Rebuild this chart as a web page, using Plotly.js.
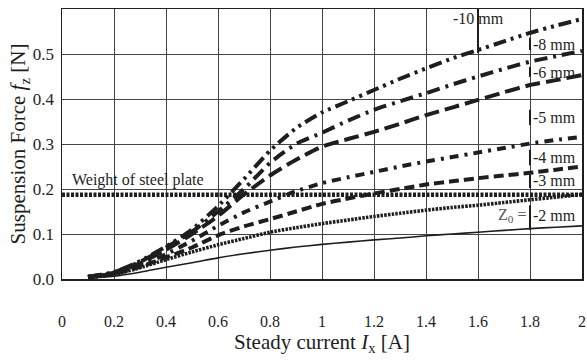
<!DOCTYPE html>
<html>
<head>
<meta charset="utf-8">
<script src="https://cdn.plot.ly/plotly-3.0.1.min.js"></script>
<style>
  html, body { margin: 0; padding: 0; background: #fff; }
  #chart { width: 587px; height: 363px; }
</style>
</head>
<body>
<div id="chart"></div>
<script>
// Steady current Ix [A]
const current = [0.1, 0.2, 0.3, 0.4, 0.5, 0.6, 0.7, 0.8, 0.9, 1.0,
                 1.1, 1.2, 1.3, 1.4, 1.5, 1.6, 1.7, 1.8, 1.9, 2.0];

// Suspension force fz [N] for each initial gap Z0
const force_m10 = [0.005, 0.015, 0.040, 0.072, 0.110, 0.162, 0.222, 0.285, 0.335, 0.370,
                   0.395, 0.420, 0.445, 0.468, 0.490, 0.509, 0.528, 0.547, 0.563, 0.578];
const force_m8  = [0.005, 0.015, 0.038, 0.070, 0.105, 0.150, 0.200, 0.258, 0.300, 0.325,
                   0.352, 0.376, 0.395, 0.413, 0.432, 0.450, 0.467, 0.483, 0.495, 0.507];
const force_m6  = [0.005, 0.014, 0.035, 0.065, 0.100, 0.140, 0.188, 0.230, 0.265, 0.294,
                   0.311, 0.327, 0.345, 0.364, 0.381, 0.398, 0.415, 0.431, 0.442, 0.453];
const force_m5  = [0.004, 0.012, 0.030, 0.055, 0.085, 0.118, 0.148, 0.172, 0.195, 0.213,
                   0.226, 0.238, 0.250, 0.261, 0.271, 0.281, 0.291, 0.301, 0.309, 0.316];
const force_m4  = [0.004, 0.011, 0.027, 0.048, 0.070, 0.097, 0.117, 0.133, 0.150, 0.167,
                   0.179, 0.190, 0.200, 0.210, 0.217, 0.224, 0.230, 0.236, 0.243, 0.250];
const force_m3  = [0.003, 0.010, 0.025, 0.043, 0.060, 0.076, 0.090, 0.104, 0.114, 0.123,
                   0.131, 0.139, 0.146, 0.153, 0.159, 0.164, 0.170, 0.176, 0.182, 0.188];
const force_m2  = [0.002, 0.006, 0.015, 0.026, 0.036, 0.047, 0.056, 0.064, 0.071, 0.077,
                   0.082, 0.087, 0.091, 0.096, 0.100, 0.104, 0.108, 0.112, 0.115, 0.118];

// Weight of the steel plate [N]
const plateWeight = 0.187;
const weightSpan = [0, 2];

const gapLabels = ["-10 mm", "-8 mm", "-6 mm", "-5 mm", "-4 mm", "-3 mm", "-2 mm"];

const xTicks = [0, 0.2, 0.4, 0.6, 0.8, 1, 1.2, 1.4, 1.6, 1.8, 2];
const xTickText = ["0", "0.2", "0.4", "0.6", "0.8", "1", "1.2", "1.4", "1.6", "1.8", "2"];
const yTicks = [0, 0.1, 0.2, 0.3, 0.4, 0.5, 0.6];
const yTickText = ["0.0", "0.1", "0.2", "0.3", "0.4", "0.5", "0.6"];

const serif = "Liberation Serif";
const ink = "#1e1e1e";

function curve(y, width, dash) {
  return { x: current, y: y, mode: "lines", type: "scatter",
           line: { color: ink, width: width, dash: dash, shape: "spline", smoothing: 0.6 },
           hoverinfo: "skip" };
}

const traces = [
  { x: weightSpan, y: [plateWeight, plateWeight], mode: "lines", type: "scatter",
    line: { color: ink, width: 4.5, dash: "3px,1.5px" }, hoverinfo: "skip" },
  curve(force_m2, 1.6, "solid"),
  curve(force_m3, 3.6, "2.5px,1.2px"),
  curve(force_m4, 4, "10px,5px"),
  curve(force_m5, 4, "9px,6px,3px,6px"),
  curve(force_m6, 4, "15px,6px"),
  curve(force_m8, 4, "13px,6px,3px,6px"),
  curve(force_m10, 4, "13px,5px,3px,5px,3px,5px")
];

// label anchors: [text, x, y, xanchor]
const labelSpots = [
  [gapLabels[0], 1.6, 0.578, "center"],
  [gapLabels[1], 1.8, 0.522, "left"],
  [gapLabels[2], 1.8, 0.460, "left"],
  [gapLabels[3], 1.8, 0.358, "left"],
  [gapLabels[4], 1.8, 0.271, "left"],
  [gapLabels[5], 1.8, 0.218, "left"],
  [gapLabels[6], 1.8, 0.142, "left"]
];

const annotations = labelSpots.map(s => ({
  text: s[0], x: s[1], y: s[2], xref: "x", yref: "y",
  xanchor: s[3], yanchor: "middle", xshift: s[3] === "left" ? 1 : 0,
  showarrow: false, font: { family: serif, size: 16, color: ink }
}));
annotations.push({
  text: "Z<sub>0</sub> =", x: 1.8, y: 0.142, xref: "x", yref: "y",
  xanchor: "right", yanchor: "middle", xshift: -2, showarrow: false,
  font: { family: serif, size: 16, color: "#555" }
});
annotations.push({
  text: "Weight of steel plate", x: 0.03, y: 0.22, xref: "x", yref: "y",
  xanchor: "left", yanchor: "middle", showarrow: false,
  font: { family: serif, size: 16, color: ink }
});

// short marker bars beside the gap labels
const bars = [
  [1.6, 0.600, 0.502],
  [1.8, 0.536, 0.509],
  [1.8, 0.471, 0.449],
  [1.8, 0.376, 0.342],
  [1.8, 0.287, 0.253],
  [1.8, 0.231, 0.202],
  [1.8, 0.164, 0.109]
];
const shapes = bars.map(b => ({
  type: "line", xref: "x", yref: "y", x0: b[0], x1: b[0], y0: b[1], y1: b[2],
  line: { color: ink, width: 2 }
}));

const layout = {
  width: 587, height: 363,
  margin: { l: 62, r: 5, t: 9, b: 84 },
  paper_bgcolor: "#fff", plot_bgcolor: "#fff",
  showlegend: false,
  font: { family: serif, color: ink },
  xaxis: {
    range: [0, 2], tickvals: xTicks, ticktext: xTickText,
    showgrid: true, gridcolor: "#444", gridwidth: 1,
    zeroline: false, showline: true, linecolor: ink, linewidth: 1.5, mirror: true,
    ticks: "", ticklabelstandoff: 27,
    tickfont: { family: serif, size: 16, color: ink },
    title: { text: "Steady current <i>I</i><sub>x</sub> [A]", standoff: 2,
             font: { family: serif, size: 21, color: ink } }
  },
  yaxis: {
    range: [0, 0.6], tickvals: yTicks, ticktext: yTickText,
    showgrid: true, gridcolor: "#444", gridwidth: 1,
    zeroline: false, showline: true, linecolor: ink, linewidth: 1.5, mirror: true,
    ticks: "", ticklabelstandoff: 3,
    tickfont: { family: serif, size: 17, color: ink },
    title: { text: "Suspension Force <i>f</i><sub>z</sub> [N]", standoff: 1,
             font: { family: serif, size: 21, color: ink } }
  },
  annotations: annotations,
  shapes: shapes
};

Plotly.newPlot("chart", traces, layout, { staticPlot: true, displayModeBar: false });
</script>
</body>
</html>
